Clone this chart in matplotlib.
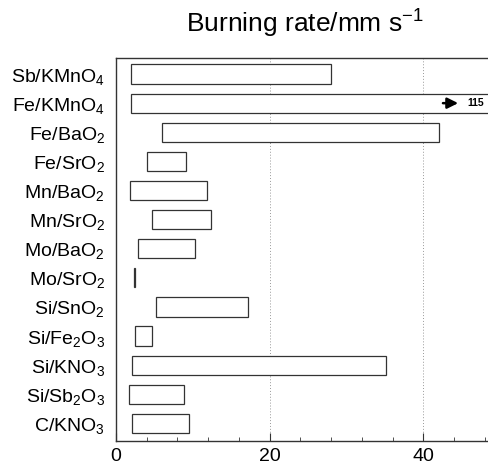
import matplotlib
matplotlib.use("Agg")
import matplotlib.pyplot as plt

plt.rcParams['font.family'] = ['Liberation Sans', 'DejaVu Sans']
plt.rcParams['mathtext.fontset'] = 'custom'
plt.rcParams['mathtext.rm'] = 'Liberation Sans'
plt.rcParams['mathtext.it'] = 'Liberation Sans:italic'

labels = [r'Sb/KMnO$_4$', r'Fe/KMnO$_4$', r'Fe/BaO$_2$', r'Fe/SrO$_2$', r'Mn/BaO$_2$',
          r'Mn/SrO$_2$', r'Mo/BaO$_2$', r'Mo/SrO$_2$', r'Si/SnO$_2$', r'Si/Fe$_2$O$_3$',
          r'Si/KNO$_3$', r'Si/Sb$_2$O$_3$', r'C/KNO$_3$']
low = [2.0, 2.0, 6.0, 4.0, 1.8, 4.7, 2.9, 2.4, 5.2, 2.5, 2.15, 1.75, 2.05]
high = [28.0, 115.0, 42.0, 9.1, 11.8, 12.4, 10.3, 2.5, 17.2, 4.7, 35.2, 8.8, 9.5]
offscale_label = '115'

fig = plt.figure(figsize=(4.89, 4.68), dpi=100)
ax = fig.add_axes([0.237, 0.058, 0.77, 0.818])

n = len(labels)
ypos = list(range(n))[::-1]
widths = [h - l for l, h in zip(low, high)]
ax.barh(ypos, widths, left=low, height=0.66, facecolor='white', edgecolor='#333333', linewidth=0.9, zorder=3)

ax.set_xlim(0, 49)
ax.set_ylim(-0.6, n - 0.45)
ax.set_yticks(ypos)
ax.set_yticklabels(labels, fontsize=14)
ax.tick_params(axis='y', length=0, pad=8)
ax.set_xticks([0, 20, 40])
ax.set_xticks([4, 8, 12, 16, 24, 28, 32, 36, 44, 48], minor=True)
ax.tick_params(axis='x', which='both', direction='in', labelsize=14, pad=5, color='#333333')
ax.tick_params(axis='x', which='major', length=6)
ax.tick_params(axis='x', which='minor', length=3)
for x in [20, 40]:
    ax.axvline(x, color='#999999', linestyle=(0, (1, 2)), linewidth=0.7, zorder=1)

ax.spines['right'].set_visible(False)
for s in ['left', 'top', 'bottom']:
    ax.spines[s].set_color('#333333')
    ax.spines[s].set_linewidth(1.0)

# off-scale indicator for Fe/KMnO4
yk = ypos[1]
ax.annotate('', xy=(44.9, yk), xytext=(42.2, yk),
            arrowprops=dict(arrowstyle='-|>', color='black', lw=1.8, mutation_scale=16), zorder=5)
ax.text(45.7, yk, offscale_label, fontsize=7.5, fontweight='bold', va='center', ha='left', zorder=5)

fig.text(0.623, 0.949, r'Burning rate/mm s$^{-1}$', fontsize=19, ha='center', va='center')

fig.savefig('out.png', dpi=100)
